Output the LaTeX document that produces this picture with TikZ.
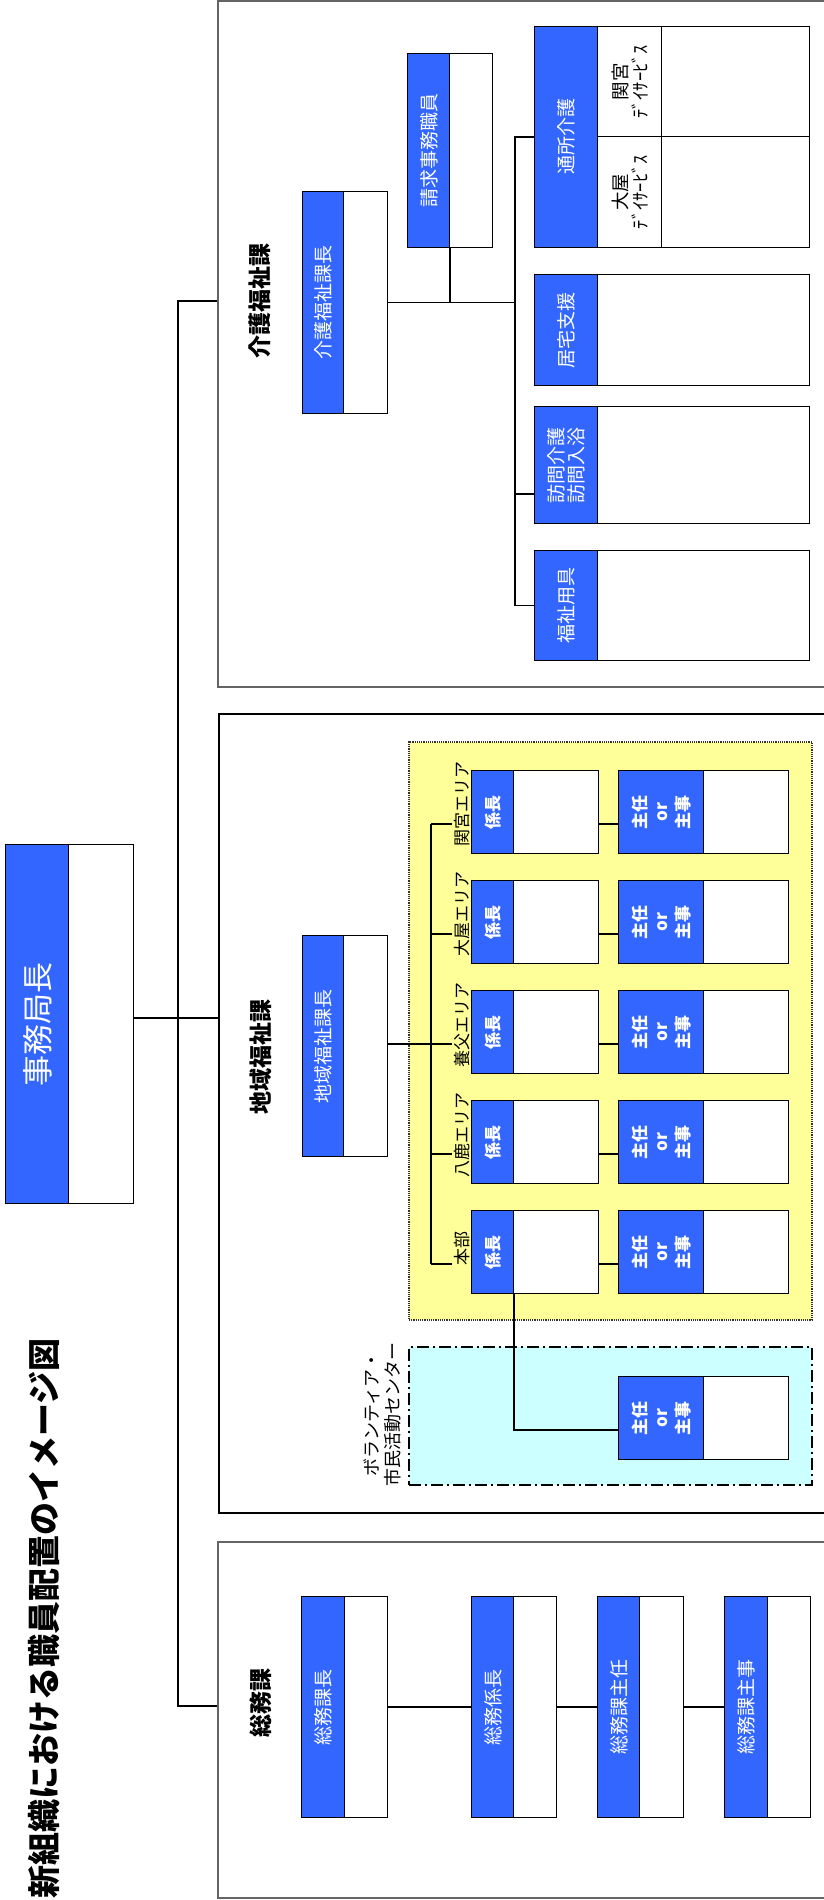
\documentclass[tikz,border=0pt]{standalone}
\usepackage{fontspec}
\setmainfont{Noto Sans CJK JP}
\usetikzlibrary{fit,calc}
\definecolor{kblue}{RGB}{51,102,255}
\definecolor{kyel}{RGB}{255,255,153}
\definecolor{kcyan}{RGB}{204,255,255}
\definecolor{kgray}{RGB}{100,100,100}
\newcommand\fsz[2]{\fontsize{#1}{#2}\selectfont}
\tikzset{
 secbox/.style={draw, inner sep=0pt, fill=white, line width=1.3pt},
 stbox/.style={inner sep=0pt, fill=white},
 sttext/.style={rotate=90, text=white, inner sep=0pt, align=center, font=\fsz{19}{20.5}},
 lbl/.style={rotate=90, inner sep=0pt, align=center},
 conn/.style={line width=1.6pt},
 trunk/.style={line width=2.2pt},
}
\newcommand\kstaff[8]{%
 \node[stbox, fit={(#2,#3) (#4,#5)}] (#1) {};
 \fill[kblue] (#1.north west) rectangle ([xshift=#6pt]#1.south west);
 \draw[line width=0.9pt] ([xshift=#6pt]#1.north west) -- ([xshift=#6pt]#1.south west);
 \draw[line width=1pt] (#1.north west) rectangle (#1.south east);
 \node[sttext,#8] (#1-t) at ($(#1.west)+(#6/2,0)$) {#7};
}
\begin{document}
\begin{tikzpicture}[x=1pt,y=-1pt]
\useasboundingbox (0,0) rectangle (824,1900);
\fill[white] (0,0) rectangle (824,1900);

% title
\node[lbl, anchor=west, font=\fsz{33}{36}\bfseries] (title) at (44,1899) {新組織における職員配置のイメージ図};

% section boxes
\node[secbox, draw=kgray, fit={(218,1) (840,687)}] (kaigo) {};
\node[secbox, draw=black, line width=1.6pt, fit={(219,714) (840,1513)}] (chiiki) {};
\node[secbox, draw=kgray, fit={(218,1542) (840,1898)}] (somu) {};

\node[lbl, font=\fsz{23}{26}\bfseries] (kaigo-l) at (260,301) {介護福祉課};
\node[lbl, font=\fsz{23}{26}\bfseries] (chiiki-l) at (261,1057) {地域福祉課};
\node[lbl, font=\fsz{23}{26}\bfseries] (somu-l) at (261,1703) {総務課};

% head
\kstaff{jimu}{6}{845}{133}{1203}{63}{事務局長}{font=\fsz{31}{34}}

% trunk
\coordinate (tkA) at (178,301);
\coordinate (tkB) at (178,1706);
\draw[trunk] (kaigo.west |- tkA) -- (tkA) -- (tkB) -- (somu.west |- tkB);
\draw[trunk] ([yshift=6pt]jimu.east) -- ([yshift=6pt]jimu.east -| chiiki.west);

% ---- kaigo section
\kstaff{kchief}{303}{192}{387}{413}{41}{介護福祉課長}{}
\kstaff{seikyu}{408}{54}{492}{247}{42}{請求事務職員}{}
\kstaff{tsusho}{535}{27}{809}{247}{63}{通所介護}{}
\draw[line width=1pt] ([xshift=63pt]tsusho.west) -- (tsusho.east);
\draw[line width=1pt] ([xshift=127pt]tsusho.north west) -- ([xshift=127pt]tsusho.south west);
\node[lbl, font=\fsz{18.5}{20.5}] (tsusho-a) at (630,82) {関宮\\ﾃﾞｲｻｰﾋﾞｽ};
\node[lbl, font=\fsz{18.5}{20.5}] (tsusho-b) at (630,192) {大屋\\ﾃﾞｲｻｰﾋﾞｽ};
\kstaff{kyotaku}{535}{275}{809}{385}{63}{居宅支援}{}
\kstaff{homon}{535}{407}{809}{523}{63}{訪問介護\\訪問入浴}{font=\fsz{19}{20}}
\kstaff{fukushi}{535}{551}{809}{660}{63}{福祉用具}{}

\coordinate (kb) at (515,137);
\draw[conn] (tsusho.west) -- (tsusho.west -| kb) -- (fukushi.west -| kb) -- (fukushi.west);
\draw[conn] (kchief.east) -- (kchief.east -| kb);
\draw[conn] ([yshift=-29pt]homon.west) -- ([yshift=-29pt]homon.west -| kb);
\draw[conn] ([xshift=42pt]seikyu.south west) -- ([xshift=42pt]seikyu.south west |- kchief.east);

% ---- chiiki section
\kstaff{cchief}{303}{936}{387}{1156}{41}{地域福祉課長}{}
\node[fill=kyel, draw=black!80, densely dotted, line width=1.2pt, inner sep=0pt, fit={(409,742) (812,1320)}] (area) {};
\node[fill=kcyan, draw=black, dash pattern=on 12pt off 4pt on 2pt off 4pt, line width=1.5pt, inner sep=0pt, fit={(409,1347) (812,1485)}] (vol) {};
\node[lbl, font=\fsz{18}{21}] (vol-l) at (382,1414) {ボランティア・\\市民活動センター};

\coordinate (cb) at (431,1044);
\foreach \i/\ty/\lab/\off in {1/771/関宮エリア/33, 2/881/大屋エリア/33, 3/991/養父エリア/34, 4/1101/八鹿エリア/34, 5/1211/本部/37}{
 \kstaff{kk\i}{472}{\ty}{598}{\ty+82}{42}{係長}{font=\fsz{17}{20}\bfseries}
 \kstaff{ks\i}{619}{\ty}{788}{\ty+82}{85}{主任\\or\\主事}{font=\fsz{17}{21.5}\bfseries}
 \draw[conn] ([yshift=-12pt]kk\i.east) -- ([yshift=-12pt]ks\i.west);
 \draw[conn] ([yshift=-12pt]kk\i.west -| cb) -- ++(21,0);
 \node[lbl, font=\fsz{17}{20}] (al\i) at (462,\ty+\off) {\lab};
}
\draw[conn] ([yshift=-12pt]kk1.west -| cb) -- ([yshift=-12pt]kk5.west -| cb);
\draw[conn] ([yshift=-12pt]kk3.west -| cchief.east) -- ([yshift=-12pt]kk3.west -| cb);

\kstaff{vs}{619}{1377}{788}{1459}{85}{主任\\or\\主事}{font=\fsz{17}{21.5}\bfseries}
\draw[conn] ([xshift=42pt]kk5.south west) |- ([yshift=-12pt]vs.west);

% ---- somu section
\kstaff{sm1}{302}{1597}{387}{1817}{43}{総務課長}{}
\kstaff{sm2}{472}{1597}{556}{1817}{42}{総務係長}{}
\kstaff{sm3}{598}{1597}{683}{1817}{42}{総務課主任}{}
\kstaff{sm4}{725}{1597}{810}{1817}{43}{総務課主事}{}
\draw[line width=1.3pt] (sm1.east) -- (sm2.west);
\draw[line width=1.3pt] (sm2.east) -- (sm3.west);
\draw[line width=1.3pt] (sm3.east) -- (sm4.west);
\end{tikzpicture}
\end{document}
